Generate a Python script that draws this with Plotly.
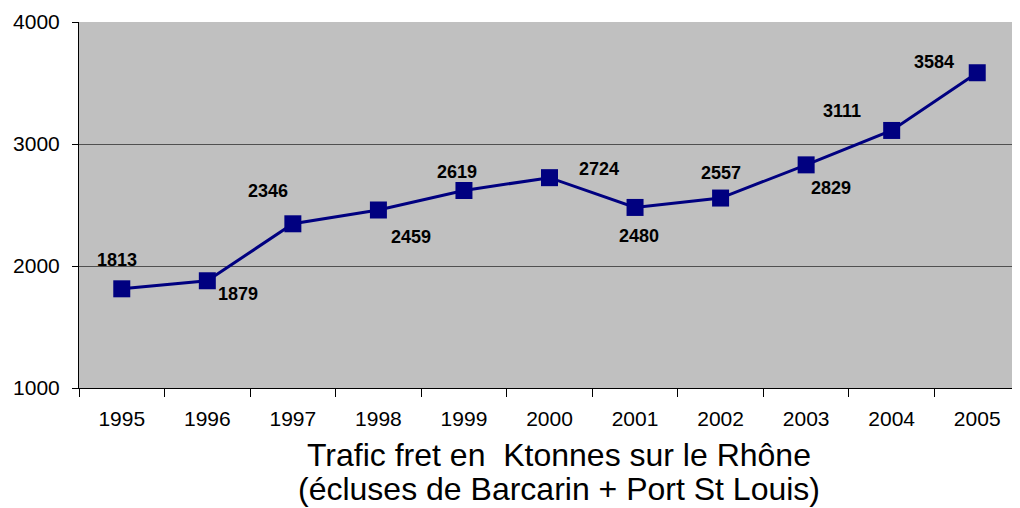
import plotly.graph_objects as go

years = ["1995", "1996", "1997", "1998", "1999", "2000", "2001", "2002", "2003", "2004", "2005"]
traffic = [1813, 1879, 2346, 2459, 2619, 2724, 2480, 2557, 2829, 3111, 3584]
y_ticks = [1000, 2000, 3000, 4000]
title_lines = ["Trafic fret en  Ktonnes sur le Rhône", "(écluses de Barcarin + Port St Louis)"]

# label offsets in pixels (style only)
label_dx = [-5, 31, -25, 33, -7, 49, 4, 0, 25, -50, -43]
label_dy = [-29, 13, -33, 27, -18, -9, 29, -25, 23, -19, -11]

FONT = "Liberation Sans, Arial, sans-serif"

fig = go.Figure()
fig.add_trace(go.Scatter(
    x=years, y=traffic, mode="lines+markers",
    line=dict(color="#000080", width=3),
    marker=dict(symbol="square", size=17, color="#000080"),
    showlegend=False, hoverinfo="skip",
))

for i, (v, dx, dy) in enumerate(zip(traffic, label_dx, label_dy)):
    fig.add_annotation(x=i, y=v, xref="x", yref="y", text=f"<b>{v}</b>", showarrow=False,
                       xshift=dx, yshift=-dy,
                       font=dict(family=FONT, size=18, color="black"))

fig.add_annotation(xref="paper", yref="paper", x=0.51, y=-0.182, yanchor="middle",
                   text=title_lines[0].replace("  ", "&nbsp; "), showarrow=False,
                   font=dict(family=FONT, size=32, color="black"))
fig.add_annotation(xref="paper", yref="paper", x=0.51, y=-0.277, yanchor="middle",
                   text=title_lines[1], showarrow=False,
                   font=dict(family=FONT, size=32, color="black"))

# page body adds an 8px offset, so the figure is sized to fit the window
fig.update_layout(
    width=1012, height=500,
    margin=dict(l=71, r=0, t=14, b=120),
    paper_bgcolor="white", plot_bgcolor="#C0C0C0",
    font=dict(family=FONT, size=21, color="black"),
    xaxis=dict(type="category", range=[-0.5, 10.5], tickson="boundaries",
               ticks="outside", ticklen=8, tickcolor="black",
               showline=True, linecolor="black", linewidth=1,
               showgrid=False, tickfont=dict(size=21), automargin=False,
               ticklabelstandoff=12),
    yaxis=dict(range=[1000, 4000], tickvals=y_ticks, ticks="outside", ticklen=6,
               tickcolor="black", showline=True, linecolor="black", linewidth=1,
               showgrid=True, gridcolor="#505050", gridwidth=1, zeroline=False,
               tickfont=dict(size=21), automargin=False, ticklabelstandoff=8),
)

fig.write_html("out.html")
